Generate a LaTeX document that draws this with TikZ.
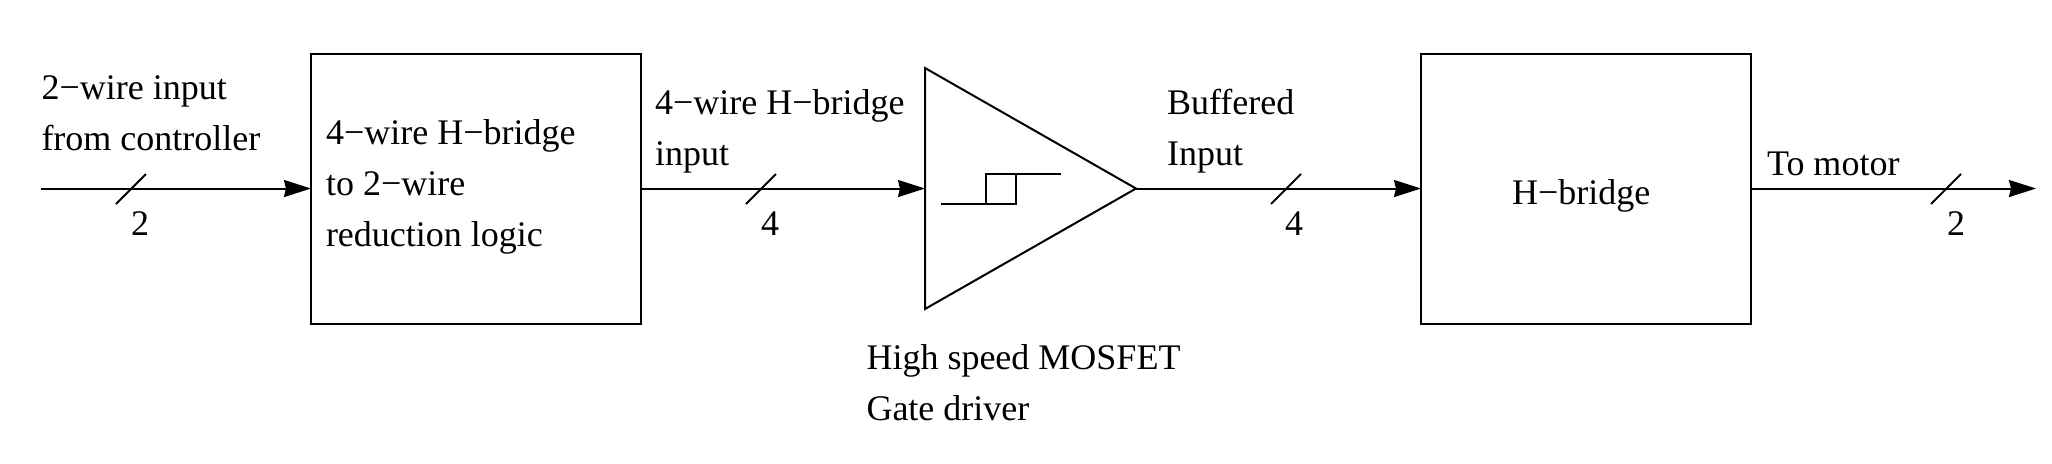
\documentclass[tikz,border=0pt]{standalone}
\usepackage{fontspec}
\setmainfont{Liberation Serif}
\usetikzlibrary{arrows.meta,shapes.geometric}
\tikzset{
  x=0.5pt,y=-0.5pt,
  wire/.style={line width=1pt,-{Stealth[length=13.5pt,width=8.5pt,inset=1pt]}},
  block/.style={draw,line width=1.1pt,rectangle,inner sep=0pt,outer sep=0pt,anchor=north west,minimum width=165pt,minimum height=135pt},
  label/.style={anchor=base west,inner sep=0pt,outer sep=0pt,font=\fontsize{18}{18}\selectfont},
  tick/.style={line width=1pt},
  hyst/.style={line width=1pt,line join=miter}
}
\begin{document}
\begin{tikzpicture}
\useasboundingbox (0,0) rectangle (2052,463);
% blocks
\node[block] (logic) at (311,54) {};
\node[block] (hb) at (1421,54) {};
\node[draw,line width=1pt,isosceles triangle,isosceles triangle stretches,inner sep=0pt,outer sep=0pt,
      minimum width=120.5pt,minimum height=105.5pt,anchor=lower side] (drv) at (925,188.5) {};
\coordinate (in) at (41,188.5);
\coordinate (out) at (2036,188.5);
% connectors
\draw[wire] (in) -- (logic.west |- in);
\draw[wire] (logic.east |- in) -- (drv.lower side);
\draw[wire] (drv.apex) -- (hb.west |- in);
\draw[wire] (hb.east |- in) -- (out);
% bus ticks
\foreach \n/\xa in {a/116,b/746,c/1271,d/1931}{
  \coordinate (\n1) at (\xa,204);
  \coordinate (\n2) at (\xa+30,174);
  \draw[tick] (\n1) -- (\n2);
}
% hysteresis symbol
\coordinate (h1) at (941,204);
\coordinate (h2) at (1016,204);
\coordinate (h3) at (1016,174);
\coordinate (h4) at (986,174);
\coordinate (h5) at (986,204);
\coordinate (h6) at (1061,174);
\draw[hyst] (h1) -- (h2) -- (h3) -- (h4) -- (h5);
\draw[hyst] (h4) -- (h6);
% labels
\node[label] (t1) at (41.5,99) {2−wire input};
\node[label] (t2) at (41.5,150) {from controller};
\node[label] (t3) at (326,144) {4−wire H−bridge};
\node[label] (t4) at (326,195) {to 2−wire};
\node[label] (t5) at (326,246) {reduction logic};
\node[label] (t6) at (655,114) {4−wire H−bridge};
\node[label] (t7) at (655,165) {input};
\node[label] (t8) at (1167,114) {Buffered};
\node[label] (t9) at (1167,165) {Input};
\node[label] (t10) at (866.5,369) {High speed MOSFET};
\node[label] (t11) at (866.5,420) {Gate driver};
\node[label] (t12) at (1512,204) {H−bridge};
\node[label] (t13) at (1767,175) {To motor};
\node[label] (n1) at (131,235) {2};
\node[label] (n2) at (761,235) {4};
\node[label] (n3) at (1285,235) {4};
\node[label] (n4) at (1947,235) {2};
\end{tikzpicture}
\end{document}
